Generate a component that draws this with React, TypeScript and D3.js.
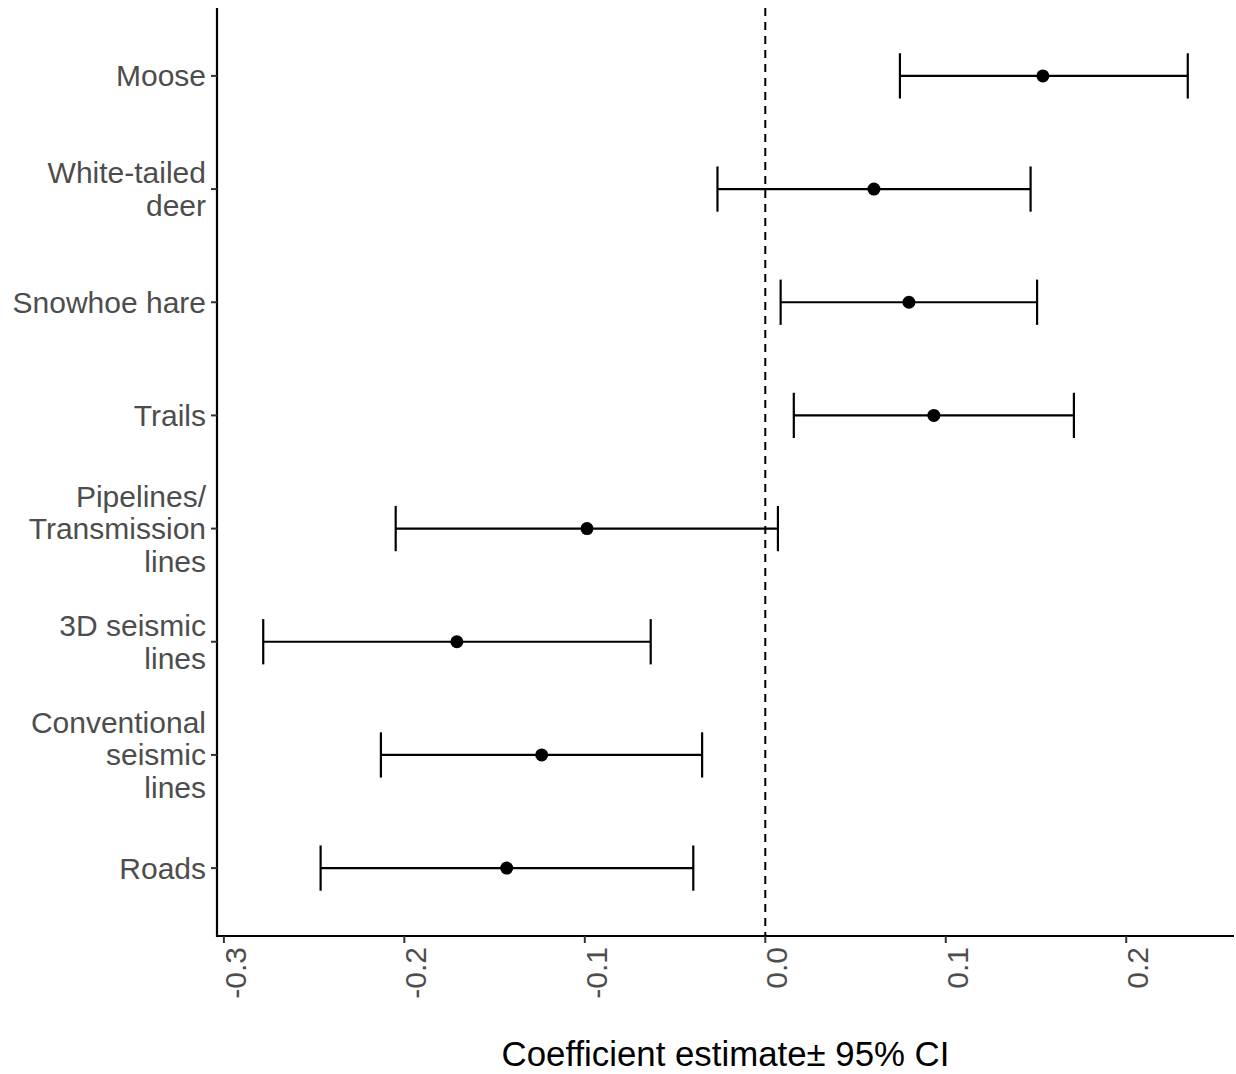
import React from 'react'
import * as d3 from 'd3'

// categories top to bottom, labels split on lines
const categories = ['Moose', 'White-tailed deer', 'Snowhoe hare', 'Trails', 'Pipelines/ Transmission lines', '3D seismic lines', 'Conventional seismic lines', 'Roads']
const labelLines = [['Moose'], ['White-tailed', 'deer'], ['Snowhoe hare'], ['Trails'], ['Pipelines/', 'Transmission', 'lines'], ['3D seismic', 'lines'], ['Conventional', 'seismic', 'lines'], ['Roads']]

// coefficient estimate and 95% CI
const estimate = [0.1538, 0.0602, 0.0796, 0.0934, -0.0988, -0.1709, -0.1239, -0.1433]
const lower = [0.0746, -0.0265, 0.0085, 0.0158, -0.2048, -0.2782, -0.2130, -0.2464]
const upper = [0.2341, 0.1470, 0.1506, 0.1710, 0.0070, -0.0635, -0.0350, -0.0399]

const xTicks = [-0.3, -0.2, -0.1, 0.0, 0.1, 0.2]

const W = 1236
const H = 1074
const margin = { top: 8, right: 2, bottom: 138, left: 217 }
const font = '"Liberation Sans", Arial, Helvetica, sans-serif'

export default function App() {
    const innerW = W - margin.left - margin.right
    const innerH = H - margin.top - margin.bottom

    // ggplot style 5% expansion
    const lo = d3.min(lower) as number
    const hi = d3.max(upper) as number
    const pad = (hi - lo) * 0.05
    const x = d3.scaleLinear().domain([lo - pad, hi + pad]).range([0, innerW])

    const y = d3.scalePoint<string>().domain(categories).range([0, innerH]).padding(0.6)
    const capH = y.step() * 0.2
    const lineH = 32.5

    return (
        <svg width={W} height={H} style={{ position: 'absolute', left: 0, top: 0, background: '#fff' }} fontFamily={font}>
            <g transform={`translate(${margin.left}, ${margin.top})`}>
                {/* zero line */}
                <line x1={x(0)} x2={x(0)} y1={0} y2={innerH} stroke="#000" strokeWidth={2} strokeDasharray="8,6" />

                {/* error bars */}
                {categories.map((c, i) => {
                    const cy = y(c) as number
                    return (
                        <g key={c}>
                            <line x1={x(lower[i])} x2={x(upper[i])} y1={cy} y2={cy} stroke="#000" strokeWidth={2.2} />
                            <line x1={x(lower[i])} x2={x(lower[i])} y1={cy - capH} y2={cy + capH} stroke="#000" strokeWidth={2.2} />
                            <line x1={x(upper[i])} x2={x(upper[i])} y1={cy - capH} y2={cy + capH} stroke="#000" strokeWidth={2.2} />
                            <circle cx={x(estimate[i])} cy={cy} r={6.5} fill="#000" />
                        </g>
                    )
                })}

                {/* axes */}
                <line x1={0} x2={0} y1={0} y2={innerH + 1} stroke="#000" strokeWidth={2.2} />
                <line x1={-1} x2={innerW} y1={innerH} y2={innerH} stroke="#000" strokeWidth={2.2} />

                {/* y ticks + labels */}
                {categories.map((c, i) => {
                    const cy = y(c) as number
                    const lines = labelLines[i]
                    const off = -((lines.length - 1) / 2) * lineH
                    return (
                        <g key={'yt' + c}>
                            <line x1={-6} x2={0} y1={cy} y2={cy} stroke="#333" strokeWidth={2} />
                            <text x={-11} y={cy + off} textAnchor="end" fontSize={30} fill="#4D4D4D">
                                {lines.map((l, j) => (
                                    <tspan key={j} x={-11} dy={j === 0 ? '0.35em' : lineH}>{l}</tspan>
                                ))}
                            </text>
                        </g>
                    )
                })}

                {/* x ticks + labels */}
                {xTicks.map(t => (
                    <g key={'xt' + t} transform={`translate(${x(t)}, ${innerH})`}>
                        <line y1={0} y2={7} stroke="#333" strokeWidth={2} />
                        <text transform="translate(0, 11) rotate(-90)" textAnchor="end" fontSize={30} fill="#4D4D4D" dy={22}>
                            {t.toFixed(1)}
                        </text>
                    </g>
                ))}

                {/* axis title */}
                <text x={innerW / 2} y={innerH + 130} textAnchor="middle" fontSize={34.8} fill="#000">
                    Coefficient estimate± 95% CI
                </text>
            </g>
        </svg>
    )
}
